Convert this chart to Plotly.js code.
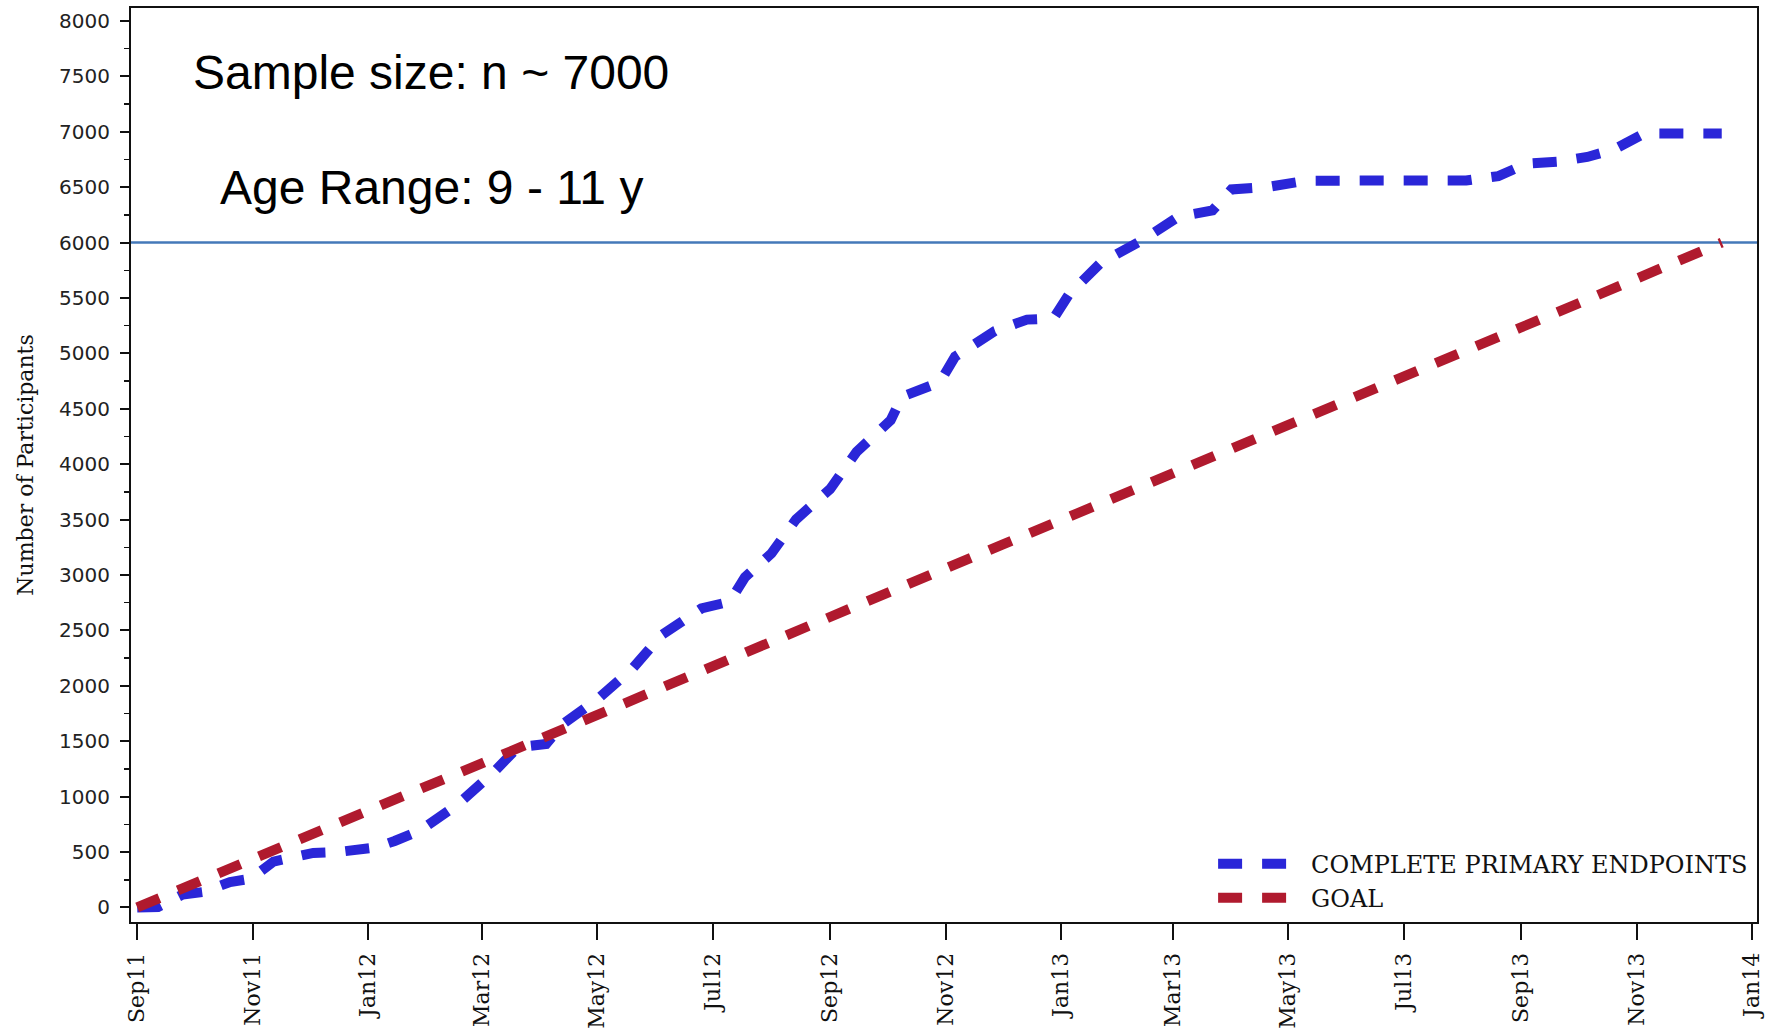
<!DOCTYPE html>
<html>
<head>
<meta charset="utf-8">
<script src="https://cdn.plot.ly/plotly-3.0.1.min.js"></script>
<style>html,body{margin:0;padding:0;background:#fff;}#chart{width:1769px;height:1036px;}</style>
</head>
<body>
<div id="chart"></div>
<script>
// ---- data ----
var completeDates = ['2011-09-01','2011-09-12','2011-09-25','2011-10-06','2011-10-20','2011-10-31','2011-11-12','2011-11-20','2011-12-03','2011-12-17','2012-01-05','2012-01-15','2012-01-28','2012-02-17','2012-03-07','2012-03-20','2012-04-04','2012-04-13','2012-05-02','2012-05-20','2012-06-04','2012-06-25','2012-07-10','2012-07-18','2012-08-01','2012-08-14','2012-09-01','2012-09-15','2012-10-03','2012-10-09','2012-10-29','2012-11-06','2012-11-27','2012-12-14','2012-12-28','2013-01-05','2013-01-22','2013-02-13','2013-03-04','2013-03-22','2013-04-01','2013-04-20','2013-05-10','2013-06-10','2013-07-03','2013-08-03','2013-08-20','2013-09-04','2013-09-20','2013-10-06','2013-10-20','2013-11-05','2013-12-16'];
var completeValues = [0,5,116,140,230,260,414,450,492,502,542,600,691,926,1216,1445,1475,1657,1892,2164,2458,2698,2760,2980,3195,3502,3776,4112,4397,4610,4740,4971,5201,5305,5315,5528,5818,6023,6233,6290,6480,6502,6558,6560,6560,6560,6600,6712,6730,6773,6840,6984,6984];

var goalDates = ['2011-09-01','2011-10-01','2011-11-01','2011-12-01','2012-01-01','2012-02-01','2012-03-01','2012-04-01','2012-05-01','2012-06-01','2012-07-01','2012-08-01','2012-09-01','2012-10-01','2012-11-01','2012-12-01','2013-01-01','2013-02-01','2013-03-01','2013-04-01','2013-05-01','2013-06-01','2013-07-01','2013-08-01','2013-09-01','2013-10-01','2013-11-01','2013-12-01','2013-12-16'];
var goalValues = [0,210,435,650,875,1095,1300,1525,1740,1960,2180,2400,2620,2840,3060,3275,3495,3720,3920,4140,4355,4580,4795,5015,5235,5450,5675,5890,6000];

var xTickVals = ['2011-09-01','2011-11-01','2012-01-01','2012-03-01','2012-05-01','2012-07-01','2012-09-01','2012-11-01','2013-01-01','2013-03-01','2013-05-01','2013-07-01','2013-09-01','2013-11-01','2014-01-01'];
var xTickText = ['Sep11','Nov11','Jan12','Mar12','May12','Jul12','Sep12','Nov12','Jan13','Mar13','May13','Jul13','Sep13','Nov13','Jan14'];

var seriesNames = ['COMPLETE PRIMARY ENDPOINTS','GOAL'];
var goalLineValue = 6000;
var noteSample = 'Sample size: n ~ 7000';
var noteAge = 'Age Range: 9 - 11 y';
var yTitle = 'Number of Participants';

// ---- chart ----
var serif = 'DejaVu Serif, serif';
var dashPattern = '24px,20px';
var traces = [
  {x: completeDates, y: completeValues, type: 'scatter', mode: 'lines', name: seriesNames[0],
   line: {color: '#2a26d8', width: 10, dash: dashPattern}},
  {x: goalDates, y: goalValues, type: 'scatter', mode: 'lines', name: seriesNames[1],
   line: {color: '#b01a2e', width: 10, dash: dashPattern}}
];

var layout = {
  width: 1769, height: 1036,
  margin: {l: 131, r: 12, t: 8, b: 114, pad: 0},
  paper_bgcolor: '#fff', plot_bgcolor: '#fff',
  showlegend: true,
  hovermode: false,
  xaxis: {
    type: 'date',
    range: ['2011-08-28 17:00', '2014-01-03 15:00'],
    tickmode: 'array', tickvals: xTickVals, ticktext: xTickText,
    tickangle: -90,
    ticks: 'outside', ticklen: 16, tickwidth: 2, tickcolor: '#111',
    tickfont: {family: serif, size: 22, color: '#111'},
    showline: true, linecolor: '#111', linewidth: 2, mirror: true,
    showgrid: false, zeroline: false,
    ticklabelstandoff: 4
  },
  yaxis: {
    range: [-131, 8117],
    tick0: 0, dtick: 500,
    ticks: 'outside', ticklen: 9, tickwidth: 2, tickcolor: '#111',
    minor: {ticks: 'outside', ticklen: 5, tickwidth: 1.5, tickcolor: '#111', dtick: 250, tick0: 0, showgrid: false},
    tickfont: {family: 'DejaVu Sans, sans-serif', size: 20, color: '#222'},
    showline: true, linecolor: '#111', linewidth: 2, mirror: true,
    showgrid: false, zeroline: false,
    ticklabelstandoff: 6,
    title: {text: yTitle, font: {family: serif, size: 22, color: '#111'}, standoff: 19}
  },
  legend: {
    x: 0.6655, y: 0.088, xanchor: 'left', yanchor: 'top',
    bgcolor: 'rgba(0,0,0,0)', borderwidth: 0,
    font: {family: serif, size: 24, color: '#111'},
    itemwidth: 88,
    tracegroupgap: 0
  },
  shapes: [
    {type: 'line', xref: 'paper', x0: 0, x1: 1, yref: 'y', y0: goalLineValue, y1: goalLineValue,
     line: {color: '#4479b9', width: 2.5}, layer: 'below'}
  ],
  annotations: [
    {xref: 'paper', yref: 'paper', x: 0.0368, y: 0.929, xanchor: 'left', yanchor: 'middle',
     text: noteSample, showarrow: false, font: {family: 'Liberation Sans, Arial, sans-serif', size: 48, color: '#000'}},
    {xref: 'paper', yref: 'paper', x: 0.0535, y: 0.804, xanchor: 'left', yanchor: 'middle',
     text: noteAge, showarrow: false, font: {family: 'Liberation Sans, Arial, sans-serif', size: 48, color: '#000'}}
  ]
};

Plotly.newPlot('chart', traces, layout, {displayModeBar: false, staticPlot: true});
</script>
</body>
</html>
